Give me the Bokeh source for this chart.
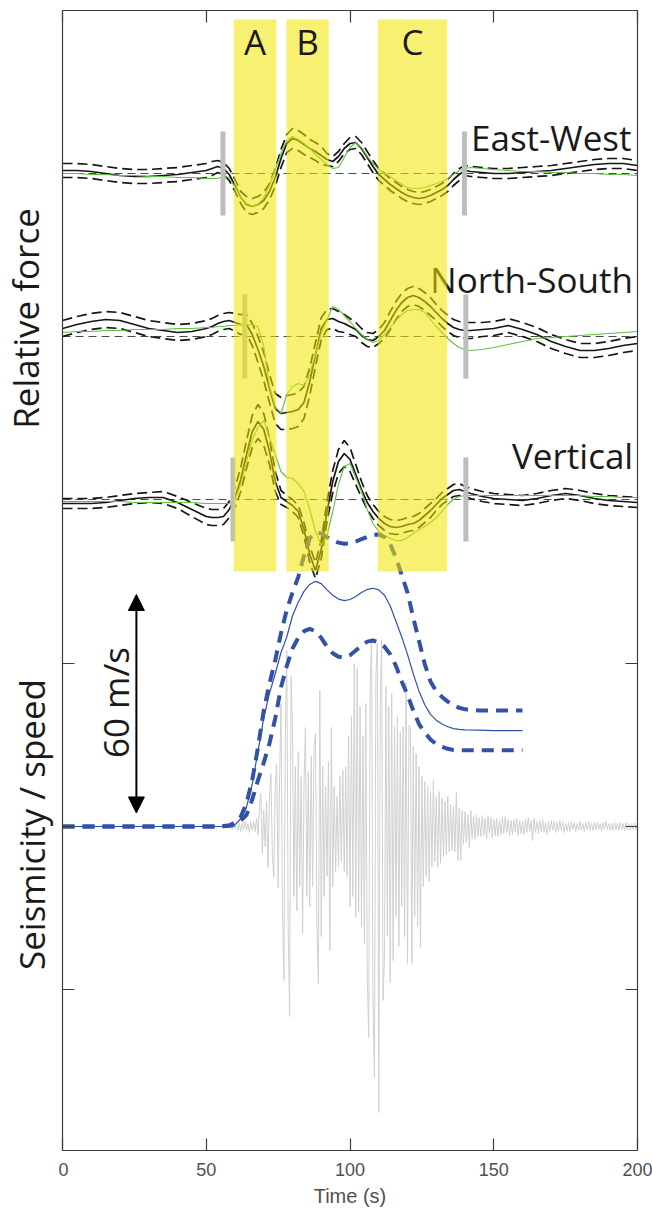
import numpy as np
from math import pi
from bokeh.plotting import figure
from bokeh.layouts import row
from bokeh.models import Range1d, LinearAxis, FixedTicker, Arrow, NormalHead
from bokeh.core.properties import value
from bokeh.embed import file_html
from bokeh.resources import INLINE

# ---------------- data ----------------
# time grid (s) of the force traces
T_F = [0, 5, 10, 15, 20, 25, 30, 35, 40, 45, 50, 52,
       54, 56, 58, 60, 62, 64, 66, 68, 70, 72,
       74, 76, 78, 80, 82, 84, 86, 88, 90, 92,
       94, 96, 98, 100, 102, 104, 106, 108, 110, 112,
       114, 116, 118, 120, 122, 124, 126, 128, 130, 132,
       134, 136, 138, 140, 142,
       146, 150, 155, 160, 165, 170, 175, 180, 185, 190, 195, 200]

# East-West relative force (inverted mean, half spread, model)
EW_MID = [3, 3, 2, 0, -2, -3, -3, -2, -1, 1, 3, 5,
          7, 5, -1, -12, -24, -31, -33, -31, -27, -18,
          -4, 15, 30, 35, 33, 29, 25, 22, 18, 14,
          12, 17, 25, 30, 31, 25, 16, 7, -1, -6,
          -11, -15, -19, -22, -24, -25, -24, -22, -19, -16,
          -12, -6, -1, 3, 2,
          1, 0, 0, 1, 2, 3, 5, 7, 9, 10, 10, 8]
EW_HALF = [7, 7, 7, 7, 7, 7, 7, 7, 7, 7, 7, 7,
           6, 6, 6, 6, 6, 8, 8, 8, 8, 8,
           9, 9, 9, 10, 10, 10, 9, 9, 9, 6,
           5, 5, 5, 6, 6, 6, 6, 6, 6, 6,
           6, 6, 6, 6, 6, 6, 6, 6, 6, 6,
           6, 6, 6, 5, 5,
           5, 5, 5, 5, 5, 5, 5, 5, 5, 5, 5, 5]
EW_MODEL = [0, 0, -1, -1, -2, -2, -3, -3, -4, -4, -5, -5,
            -5, -3, -4, -14, -24, -30, -33, -31, -24, -12,
            4, 20, 33, 37, 34, 30, 25, 19, 14, 9,
            5, 6, 16, 26, 31, 26, 17, 10, 4, 0,
            -3, -7, -11, -14, -15, -15, -14, -12, -10, -8,
            -5, -1, 3, 5, 6,
            5, 4, 3, 2, 2, 1, 1, 0, 0, -1, -1, -2]

# North-South
NS_MID = [8, 12, 15, 17, 16, 12, 8, 6, 4, 5, 8, 10,
          13, 15, 16, 14, 12, 12, 2, -13, -30, -52,
          -72, -77, -76, -75, -73, -66, -45, -18, 8, 17,
          18, 15, 13, 10, 7, 1, -3, -4, 0, 6,
          16, 26, 34, 39, 41, 39, 35, 30, 24, 18,
          13, 9, 7, 6, 6,
          7, 8, 11, 7, 2, -5, -10, -14, -14, -12, -9, -7]
NS_HALF = [8, 8, 8, 8, 8, 8, 8, 8, 8, 8, 8, 8,
           8, 8, 8, 9, 10, 10, 11, 13, 14, 14,
           15, 16, 17, 17, 17, 16, 14, 12, 11, 10,
           10, 10, 9, 8, 7, 7, 7, 7, 7, 8,
           9, 9, 9, 9, 9, 9, 9, 9, 8, 8,
           8, 8, 8, 8, 8,
           7, 7, 7, 7, 7, 7, 7, 7, 7, 7, 7, 7]
NS_MODEL = [4, 5, 5, 6, 6, 7, 7, 7, 8, 8, 9, 9,
            10, 10, 11, 11, 12, 12, 12, 10, -10, -50,
            -70, -77, -58, -50, -47, -49, -38, -17, 3, 17,
            30, 27, 21, 15, 8, 2, -3, -6, -4, 2,
            9, 16, 22, 26, 27, 27, 24, 17, 10, 4,
            -2, -7, -11, -13, -14,
            -13, -11, -8, -5, -2, -1, 0, 1, 2, 3, 4, 5]

# Vertical
V_MID = [-4, -4, -4, -3, -1, 1, 2, 2, -3, -10, -17, -18,
         -18, -17, -10, 2, 20, 45, 68, 78, 70, 48,
         18, 2, -2, -6, -12, -30, -55, -71, -50, -12,
         18, 38, 46, 40, 25, 10, -3, -12, -19, -24,
         -27, -28, -27, -25, -24, -21, -16, -11, -5, 1,
         5, 9, 10, 8, 6,
         3, 1, 0, -1, 1, 4, 6, 4, 1, -1, -2, -3]
V_HALF = [5, 5, 5, 5, 5, 5, 5, 6, 6, 7, 8, 8,
          8, 8, 8, 10, 12, 14, 16, 17, 16, 13,
          10, 7, 6, 6, 6, 7, 8, 8, 9, 10,
          11, 12, 13, 12, 10, 8, 7, 7, 7, 7,
          7, 7, 7, 7, 7, 7, 7, 7, 6, 6,
          6, 6, 6, 5, 5,
          5, 5, 5, 5, 5, 5, 5, 5, 5, 5, 5, 5]
V_MODEL = [-2, -2, -2, -2, -2, -3, -3, -3, -3, -3, -4, -4,
           -4, -4, -4, 0, 15, 38, 60, 72, 79, 62,
           45, 28, 22, 21, 16, 8, -10, -32, -46, -36,
           -12, 15, 33, 36, 22, 8, -10, -24, -32, -36,
           -39, -41, -41, -38, -34, -30, -27, -23, -18, -12,
           -5, 0, 3, 4, 4,
           4, 4, 4, 4, 4, 4, 4, 4, 3, 3, 2, 2]

COMPONENTS = ["East-West", "North-South", "Vertical"]
BASELINES = [653, 490, 327]          # vertical offsets of the three force panels
MARK_LEFT = [55.8, 63.4, 59.3]       # grey window markers (s)
MARK_RIGHT = [139.8, 140.3, 140.3]
MARK_HALF = 42

# slip speed (m/s)
SPD_T = [0, 55, 58, 60, 62, 64, 66, 68, 70, 72, 74, 76, 78, 80, 82, 84, 86, 88, 90,
         92, 94, 96, 98, 100, 102, 104, 106, 108, 110, 112, 114, 116, 118, 120,
         122, 124, 126, 128, 130, 132, 134, 136, 138, 140, 145, 150, 160]
SPD_MID = [0, 0, 0.2, 0.5, 2, 5, 11, 19.5, 28, 34.5, 39.5, 45, 49, 54.5, 58, 60.8, 62.6,
           63.4, 62.8, 61.2, 59.8, 58.8, 58.4, 58.7, 59.5, 60.5, 61.3, 61.6, 61.2, 59.8,
           57, 53, 49, 44.5, 39.5, 35, 31.5, 29, 27.5, 26.5, 25.8, 25.3, 25.1, 25, 24.9,
           24.8, 24.8]
SPD_UP = [0, 0, 0.3, 1, 2.5, 6, 12, 20.5, 30, 37, 43, 50, 56, 60.5, 64.5, 70, 74.5, 76,
          75.8, 74.8, 74, 73.4, 73.1, 73.2, 73.7, 74.3, 74.9, 75.4, 75.5, 74.8, 73, 69.5,
          65, 60.5, 54, 48, 42, 37.5, 35, 33.5, 32.3, 31.3, 30.7, 30.3, 30, 30, 30]
SPD_LO = [0, 0, 0.2, 0.5, 1.5, 3, 7, 12, 16.5, 21.5, 28, 36, 41.5, 46, 48.8, 50.5, 51.1,
          50.5, 48.8, 46.5, 44.8, 43.9, 43.7, 44.3, 45.5, 46.8, 47.8, 48.1, 47.6, 46.5,
          44.5, 41.5, 37.5, 34, 30, 26.5, 24.3, 22.5, 21.3, 20.6, 20.1, 19.8, 19.7, 19.7,
          19.7, 19.7, 19.7]
SPEED_SCALE = 3.867   # plot units per m/s
ARROW_MS = [3.5, 60.0]  # the 60 m/s scale arrow

# seismogram (relative amplitude), sampled every 0.5 s from 56 s
SEIS_START, SEIS_DT = 56.0, 0.5
SEIS_V = [0, 1, -1, 2, -2, 2, -3, 3, -2, 4,
          -4, 3, -5, 4, -3, 5, -4, 3, -6, 5,
          -4, 5, -5, 8, -8, 20, 33, -27, 16, -20,
          25, -41, 30, 53, -30, -51, 40, 62, -61, 45,
          123, -80, -154, 90, 176, -100, -190, 150, 99, -70,
          60, -84, 75, -60, 50, -107, 40, 99, -70, 55,
          -80, 70, -60, 80, 93, -100, -157, 136, -110, 60,
          -70, 40, -50, 65, -124, 99, -60, 40, -45, 30,
          -40, 50, -35, 56, -45, 60, -50, 90, -80, 110,
          -70, 163, -91, 158, -85, 120, -100, 90, -117, 123,
          -150, -211, 140, 188, -180, -251, 150, 183, -286, 120,
          186, -174, -130, 140, -110, 120, -156, 133, -134, 100,
          -90, 110, -120, 95, -80, 100, -110, 144, -137, 101,
          99, -137, 80, -90, 73, -100, 60, -121, 50, -60,
          45, -50, 40, -55, 35, -40, 46, -35, 30, -41,
          35, -37, 28, -30, 25, -28, 30, -25, 22, -24,
          20, -25, 34, -34, 18, -34, 16, -18, 15, -16,
          12, -21, 16, -12, 10, -13, 12, -10, 9, -10,
          11, -9, 8, -12, 10, -7, 9, -11, 7, -9,
          8, -10, 6, -8, 9, -7, 10, -6, 7, -9,
          6, -8, 7, -5, 8, -9, 6, -7, 5, -8,
          7, -6, 9, -5, 6, -14, 8, -6, 5, -7,
          6, -5, 7, -6, 4, -8, 5, -5, 6, -4,
          5, -6, 4, -5, 6, -4, 5, -6, 3, -5,
          4, -5, 5, -3, 4, -5, 3, -4, 5, -4,
          3, -5, 4, -3, 5, -4, 3, -4, 4, -3,
          4, -3, 3, -5, 4, -3, 5, -3, 3, -4,
          3, -4, 4, -3, 3, -4, 4, -3, 3, -4,
          4, -3, 3, -4, 3, -3, 4, -3, 3]

# highlighted phases
BAND_NAMES = ["A", "B", "C"]
BAND_START = [59.6, 77.9, 109.7]
BAND_END = [74.4, 92.6, 133.8]
BAND_Y = [255, 807]

X_TICKS = [0, 50, 100, 150, 200]
Y_TICKS = [-163, 0, 163]

# y-axis titles (placed in a narrow side panel that shares the y range)
Y_TITLES = ["Relative force", "Seismicity / speed"]
Y_TITLE_CENTER = [508, 2]       # plot units
Y_TITLE_BASE = [25, 31]         # px from the page's left edge

LEFT_W = 58
TEXT_FONT = "Open Sans"

# ---------------- main figure ----------------
p = figure(width=652 - LEFT_W, height=1209, output_backend="svg", toolbar_location=None,
           x_range=Range1d(0, 200), y_range=Range1d(-324, 816),
           x_axis_type=None, y_axis_type=None,
           min_border_left=4, min_border_right=15, min_border_top=10, min_border_bottom=59)
p.outline_line_color = None
p.background_fill_color = "white"

# ---------------- side panel with the axis titles ----------------
side = figure(width=LEFT_W, height=1209, output_backend="svg", toolbar_location=None,
              x_range=Range1d(0, LEFT_W), y_range=p.y_range,
              x_axis_type=None, y_axis_type=None,
              min_border_left=0, min_border_right=0, min_border_top=10, min_border_bottom=59)
side.outline_line_color = None
side.text(x=Y_TITLE_BASE, y=Y_TITLE_CENTER, text=Y_TITLES, angle=pi / 2,
          text_font=value(TEXT_FONT), text_font_size="35px", text_color="#1a1a1a",
          text_align="center", text_baseline="alphabetic")

AX_COL = "#3c3c3c"


def make_axis(ticks, show_labels):
    ax = LinearAxis(ticker=FixedTicker(ticks=ticks))
    ax.axis_line_color = AX_COL
    ax.axis_line_width = 1.2
    ax.major_tick_line_color = AX_COL
    ax.major_tick_line_width = 1.2
    ax.major_tick_in = 12
    ax.major_tick_out = 0
    ax.minor_tick_line_color = None
    if show_labels:
        ax.major_label_text_font = "Liberation Sans"
        ax.major_label_text_font_size = "18px"
        ax.major_label_text_color = "#505050"
        ax.major_label_standoff = 12
    else:
        ax.major_label_text_font_size = "0px"
        ax.major_label_text_color = None
        ax.major_label_standoff = 0
    return ax


bottom = make_axis(X_TICKS, True)
bottom.axis_label = "Time (s)"
bottom.axis_label_text_font = "Liberation Sans"
bottom.axis_label_text_font_size = "20px"
bottom.axis_label_text_font_style = "normal"
bottom.axis_label_text_color = "#505050"
bottom.axis_label_standoff = 6
p.add_layout(bottom, "below")
p.add_layout(make_axis(X_TICKS, False), "above")
p.add_layout(make_axis(Y_TICKS, False), "left")
p.add_layout(make_axis(Y_TICKS, False), "right")

# seismogram
seis_t = [0.0] + [SEIS_START + SEIS_DT * i for i in range(len(SEIS_V))]
seis_v = [0.0] + list(SEIS_V)
p.line(seis_t, seis_v, line_color="#d0d0d0", line_width=1)

# force traces
BLACK = "#161616"
GREEN = "#62c040"
for base, mid, half, model in zip(BASELINES, [EW_MID, NS_MID, V_MID],
                                  [EW_HALF, NS_HALF, V_HALF],
                                  [EW_MODEL, NS_MODEL, V_MODEL]):
    n = min(len(T_F), len(mid), len(half), len(model))
    t = np.array(T_F[:n], dtype=float)
    m = np.array(mid[:n], dtype=float)
    h = np.array(half[:n], dtype=float)
    g = np.array(model[:n], dtype=float)
    p.line([X_TICKS[0], X_TICKS[-1]], [base, base], line_color="#4a4a4a",
           line_width=1, line_dash="8 5")
    p.line(t, base + m + h, line_color=BLACK, line_width=1.7, line_dash="10 5")
    p.line(t, base + m - h, line_color=BLACK, line_width=1.7, line_dash="10 5")
    p.line(t, base + m, line_color=BLACK, line_width=1.7)
    p.line(t, base + g, line_color=GREEN, line_width=1.1)

# grey window markers
for base, tl, tr in zip(BASELINES, MARK_LEFT, MARK_RIGHT):
    p.segment(x0=[tl, tr], y0=[base - MARK_HALF] * 2, x1=[tl, tr], y1=[base + MARK_HALF] * 2,
              line_color="#bdbdbd", line_width=5, line_cap="butt")

# slip speed
BLUE = "#3451a8"
st = np.array(SPD_T, dtype=float)
p.line(st, np.array(SPD_UP) * SPEED_SCALE, line_color=BLUE, line_width=4, line_dash="12 8")
p.line(st, np.array(SPD_LO) * SPEED_SCALE, line_color=BLUE, line_width=4, line_dash="12 8")
p.line(st, np.array(SPD_MID) * SPEED_SCALE, line_color=BLUE, line_width=1.2)

# component names (under the yellow bands)
NAME_T = [197.9, 198.4, 198.5]
NAME_DY = [36, 57, 44]
p.text(x=NAME_T, y=[b + d for b, d in zip(BASELINES, NAME_DY)], text=COMPONENTS,
       text_font=value(TEXT_FONT), text_font_size="35px", text_color="#1a1a1a",
       text_align="right", text_baseline="alphabetic")

# yellow bands on top (semi-transparent)
p.quad(left=BAND_START, right=BAND_END, bottom=[BAND_Y[0]] * 3, top=[BAND_Y[1]] * 3,
       fill_color="#f0e400", fill_alpha=0.56, line_color=None)

# band letters
p.text(x=[(a + b) / 2 for a, b in zip(BAND_START, BAND_END)], y=[785] * 3, text=BAND_NAMES,
       text_font=value(TEXT_FONT), text_font_size="35px", text_color="#1a1a1a",
       text_align="center", text_baseline="alphabetic")

# 60 m/s arrow
p.add_layout(Arrow(start=NormalHead(size=16, fill_color="black", line_color="black"),
                   end=NormalHead(size=16, fill_color="black", line_color="black"),
                   x_start=25.7, y_start=ARROW_MS[0] * SPEED_SCALE,
                   x_end=25.7, y_end=ARROW_MS[1] * SPEED_SCALE,
                   line_color="black", line_width=2))
p.text(x=[18.3], y=[124], text=["60 m/s"], angle=pi / 2, text_align="center",
       text_baseline="alphabetic", text_font=value(TEXT_FONT),
       text_font_size="35px", text_color="#1a1a1a")

layout = row(side, p, spacing=0)
open("out.html", "w").write(file_html(layout, INLINE))
